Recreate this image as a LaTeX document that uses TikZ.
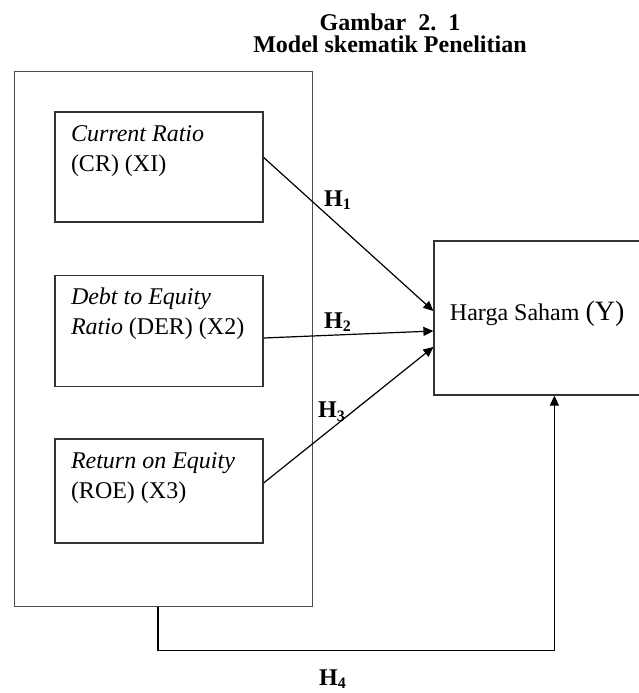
\documentclass[tikz,border=0pt]{standalone}
\usepackage{fontspec}
\setmainfont{Liberation Serif}
\usetikzlibrary{arrows.meta,positioning}

\newcommand{\boxtext}[2][47pt]{\parbox[c][#1][t]{88pt}{\strut#2}}

\tikzstyle{varbox} = [rectangle, minimum width=104pt, minimum height=55pt, inner xsep=8pt, inner ysep=4pt, draw=black!80, line width=0.6pt, font=\fontsize{12}{15}\selectfont]
\tikzstyle{outerbox} = [rectangle, minimum width=149pt, minimum height=267.5pt, inner sep=0pt, draw=black!70, line width=0.6pt, anchor=north west]
\tikzstyle{hlabel} = [inner sep=0pt, font=\bfseries\fontsize{12}{14}\selectfont]
\tikzstyle{arrow} = [line width=0.6pt, -{Triangle[length=5pt,width=4.5pt]}]

\begin{document}
\begin{tikzpicture}[node distance = 81pt, auto]
	\useasboundingbox (0,0) rectangle (319.5pt,-346.5pt);
	% Place nodes
	\node [anchor=north, inner sep=0pt, align=center, font=\bfseries\fontsize{12}{11}\selectfont] (title) at (195pt,-6.5pt) {Gambar\ \ 2.\ \ 1\\Model skematik Penelitian};
	\node [outerbox] (independent) at (7pt,-35.5pt) {};
	\node [varbox] (CR) at (79.5pt,-83.5pt) {\boxtext{\textit{Current Ratio}\\(CR) (XI)}};
	\node [varbox, below of=CR, yshift=-1pt, minimum height=55.5pt] (DER) {\boxtext[47.5pt]{\textit{Debt to Equity}\\\textit{Ratio} (DER) (X2)}};
	\node [varbox, below of=DER, yshift=1pt, minimum height=52pt] (ROE) {\boxtext[44pt]{\textit{Return on Equity}\\(ROE) (X3)}};
	\node [varbox, minimum height=77pt] (Harga) at (269pt,-159pt) {\boxtext[69pt]{\rule{0pt}{35.5pt}Harga Saham {\fontsize{14}{15}\selectfont(Y)}}};
	\node [hlabel] (H1) at (169pt,-100pt) {H\textsubscript{1}};
	\node [hlabel] (H2) at (169pt,-161pt) {H\textsubscript{2}};
	\node [hlabel] (H3) at (166pt,-206pt) {H\textsubscript{3}};
	\node [hlabel] (H4) at (166.5pt,-339.5pt) {H\textsubscript{4}};
	% Draw edges
	\draw [arrow] ([yshift=-23pt]CR.north east) -- ([yshift=3.5pt]Harga.west);
	\draw [arrow] ([yshift=-3.5pt]DER.east) -- ([yshift=-6.5pt]Harga.west);
	\draw [arrow] ([yshift=4pt]ROE.east) -- ([yshift=-14.5pt]Harga.west);
	\draw [arrow] ([xshift=72pt]independent.south west) -- ++(0,-21.5pt) -| ([xshift=60.5pt]Harga.south west);
\end{tikzpicture}
\end{document}
